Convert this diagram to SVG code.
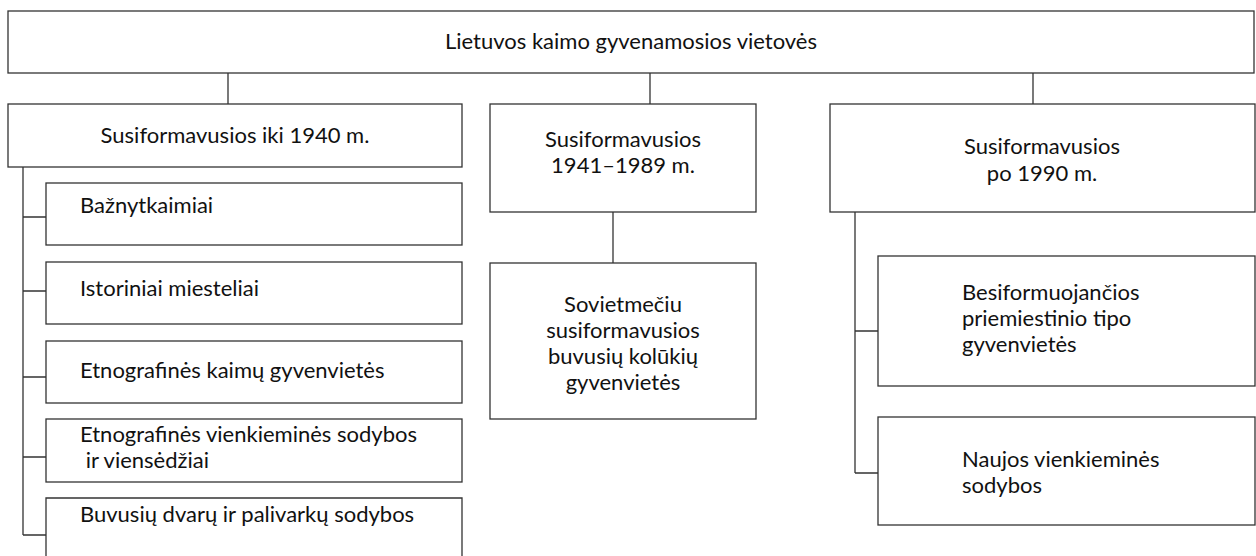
<svg xmlns="http://www.w3.org/2000/svg" width="1256" height="556" viewBox="0 0 1256 556">
<style>
.box{fill:#fff;stroke:#333;stroke-width:1.3}
.ln{fill:none;stroke:#333;stroke-width:1.3}
text{font-family:Lato,"Open Sans","Liberation Sans",sans-serif;font-size:22px;fill:#111}
.c{text-anchor:middle}
</style>
<rect width="1256" height="556" fill="#fff"/>
<g id="connectors">
<path class="ln" d="M228 73V104M650 73V104M1033 73V104"/>
<path class="ln" d="M23 167V535M23 217H46M23 291H46M23 377H46M23 457H46M23 535H46"/>
<path class="ln" d="M613 212V263"/>
<path class="ln" d="M855 212V473M855 331H878M855 473H878"/>
</g>
<g id="root"><rect class="box" x="8" y="11" width="1246" height="62"/><text class="c" x="631" y="49">Lietuvos kaimo gyvenamosios vietovės</text></g>
<g id="n1"><rect class="box" x="8" y="104" width="454" height="63"/><text class="c" x="235" y="143">Susiformavusios iki 1940 m.</text></g>
<g id="n2"><rect class="box" x="490" y="104" width="266" height="108"/><text class="c" x="623" y="147">Susiformavusios</text><text class="c" x="623" y="173">1941–1989 m.</text></g>
<g id="n3"><rect class="box" x="830" y="104" width="425" height="108"/><text class="c" x="1042" y="154">Susiformavusios</text><text class="c" x="1042" y="181">po 1990 m.</text></g>
<g id="n1a"><rect class="box" x="46" y="183" width="416" height="62"/><text x="80" y="213">Bažnytkaimiai</text></g>
<g id="n1b"><rect class="box" x="46" y="262" width="416" height="62"/><text x="80" y="296">Istoriniai miesteliai</text></g>
<g id="n1c"><rect class="box" x="46" y="341" width="416" height="62"/><text x="80" y="378">Etnografinės kaimų gyvenvietės</text></g>
<g id="n1d"><rect class="box" x="46" y="419" width="416" height="63"/><text x="80" y="442">Etnografinės vienkieminės sodybos</text><text x="80" y="468" xml:space="preserve"> ir viensėdžiai</text></g>
<g id="n1e"><path class="box" d="M46 556V498H462V556"/><text x="80" y="522">Buvusių dvarų ir palivarkų sodybos</text></g>
<g id="n2a"><rect class="box" x="490" y="263" width="266" height="156"/><text class="c" x="623" y="312">Sovietmečiu</text><text class="c" x="623" y="338">susiformavusios</text><text class="c" x="623" y="364">buvusių kolūkių</text><text class="c" x="623" y="390">gyvenvietės</text></g>
<g id="n3a"><rect class="box" x="878" y="256" width="377" height="130"/><text x="962" y="300">Besiformuojančios</text><text x="962" y="326">priemiestinio tipo</text><text x="962" y="352">gyvenvietės</text></g>
<g id="n3b"><rect class="box" x="878" y="417" width="377" height="108"/><text x="962" y="467">Naujos vienkieminės</text><text x="962" y="493">sodybos</text></g>
</svg>
